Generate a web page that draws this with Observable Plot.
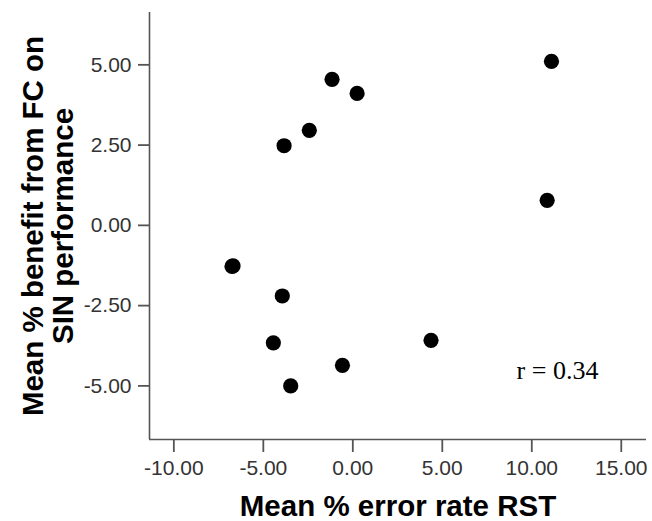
<!DOCTYPE html>
<html><head><meta charset="utf-8">
<script src="https://cdn.jsdelivr.net/npm/d3@7"></script>
<script src="https://cdn.jsdelivr.net/npm/@observablehq/plot@0.6"></script>
<style>html,body{margin:0;padding:0;background:#fff} #chart svg{display:block}</style>
</head><body><div id="chart"></div>
<script>
// Data
const errorRate = [11.10, 10.86, -1.16, 0.24, -2.43, -3.84, -6.75, -6.69, -3.94, -4.44, -0.58, -3.47, 4.37];
const benefit   = [5.11, 0.78, 4.55, 4.11, 2.96, 2.48, -1.28, -1.26, -2.20, -3.66, -4.36, -5.00, -3.58];
const xTicks = [-10, -5, 0, 5, 10, 15];
const yTicks = [-5, -2.5, 0, 2.5, 5];
const xTitle = "Mean % error rate RST";
const yTitle = "Mean % benefit from FC on\nSIN performance";
const rLabel = ["r = 0.34"];
const rLabelX = [9.15];
const rLabelY = [-4.8];

const points = errorRate.map((x, i) => ({x, y: benefit[i]}));
const xDomain = [-11.36, 16.41];
const yDomain = [-6.67, 6.63];
const fmt = d => d.toFixed(2);
const sans = "'Liberation Sans', Arial, sans-serif";

const chart = Plot.plot({
  width: 652,
  height: 521,
  marginLeft: 149,
  marginRight: 6,
  marginTop: 12,
  marginBottom: 82,
  style: {fontFamily: sans, background: "#fff", color: "#000"},
  x: {domain: xDomain},
  y: {domain: yDomain},
  marks: [
    Plot.axisX(xTicks, {tickSize: 13, tickPadding: 8, tickFormat: fmt, fontSize: 21, stroke: "#555", strokeWidth: 1.8, fill: "#333", label: null}),
    Plot.axisY(yTicks, {tickSize: 11, tickPadding: 7, tickFormat: fmt, fontSize: 21, stroke: "#555", strokeWidth: 1.8, fill: "#333", label: null}),
    Plot.ruleX([xDomain[0]], {stroke: "#555", strokeWidth: 1.6}),
    Plot.ruleY([yDomain[0]], {stroke: "#555", strokeWidth: 1.6}),
    Plot.dot(points, {x: "x", y: "y", r: 7.6, fill: "#000", stroke: "none"}),
    Plot.text(rLabel, {x: rLabelX, y: rLabelY, text: d => d, textAnchor: "start", lineAnchor: "bottom", fontFamily: "'Liberation Serif', 'Times New Roman', serif", fontSize: 26, fill: "#000"}),
    Plot.text([xTitle], {frameAnchor: "bottom", textAnchor: "middle", lineAnchor: "bottom", dy: 76, fontSize: 29.5, fontWeight: "bold", fill: "#000"}),
    Plot.text([yTitle], {frameAnchor: "left", textAnchor: "middle", lineAnchor: "bottom", rotate: -90, dx: -77, fontSize: 29.5, lineHeight: 0.99, fontWeight: "bold", fill: "#000"})
  ]
});
document.getElementById("chart").appendChild(chart);
</script>
</body></html>
